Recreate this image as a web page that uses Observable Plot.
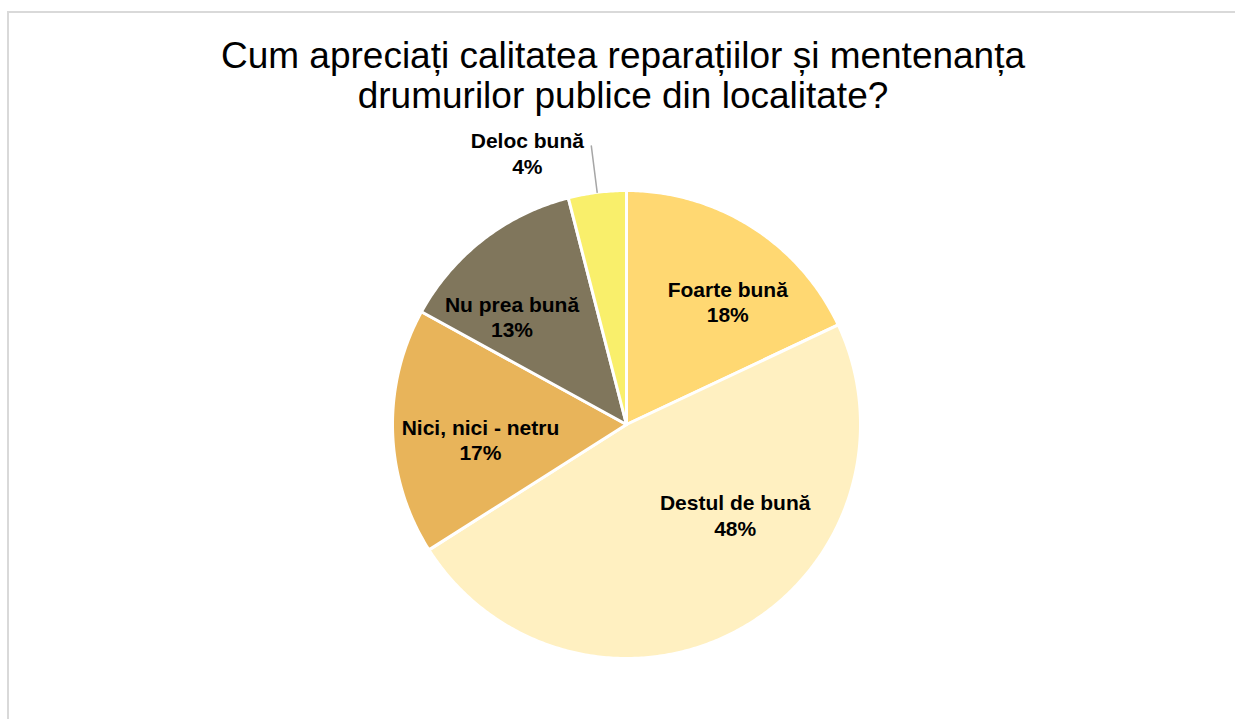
<!DOCTYPE html>
<html>
<head>
<meta charset="utf-8">
<script src="https://cdn.jsdelivr.net/npm/d3@7"></script>
<script src="https://cdn.jsdelivr.net/npm/@observablehq/plot@0.6"></script>
<style>
  html, body { margin: 0; padding: 0; background: #fff; }
  body { width: 1235px; height: 719px; overflow: hidden; position: relative; font-family: "Liberation Sans", Arial, sans-serif; }
  .frame { position: absolute; left: 7px; top: 11px; width: 1260px; height: 740px; border-left: 2px solid #d9d9d9; border-top: 2px solid #d9d9d9; box-sizing: border-box; }
  .title { position: absolute; top: 36px; left: 0; width: 1246px; text-align: center; font-size: 37px; line-height: 40px; color: #000; }
  #chart { position: absolute; top: 128px; left: 0; }
</style>
</head>
<body>
<div class="frame"></div>
<div class="title">Cum apreciați calitatea reparațiilor și mentenanța<br>drumurilor publice din localitate?</div>
<div id="chart"></div>
<script>
const categories = ["Foarte bună", "Destul de bună", "Nici, nici - netru", "Nu prea bună", "Deloc bună"];
const values = [18, 48, 17, 13, 4];
const colors = ["#FFD872", "#FFF0C1", "#E8B45A", "#80765C", "#F9EF6B"];
const outside = [false, false, false, false, true];
// manual label nudges (pixels), as in the original's hand-placed labels
const labelDx = [16, 32, 13, -17, -64];
const labelDy = [11, -49, 10, 18, 7];

const total = d3.sum(values);
const arcs = d3.pie().sort(null).value(d => d)(values);

// polygon points for each slice (angles measured clockwise from top)
const slices = arcs.map((a, i) => {
  const pts = [{x: 0, y: 0}];
  const n = Math.max(8, Math.ceil((a.endAngle - a.startAngle) / 0.01));
  for (let k = 0; k <= n; k++) {
    const t = a.startAngle + (a.endAngle - a.startAngle) * k / n;
    pts.push({x: Math.sin(t), y: Math.cos(t)});
  }
  return {cat: categories[i], color: colors[i], pts};
});

const labels = arcs.map((a, i) => {
  const mid = (a.startAngle + a.endAngle) / 2;
  const r = outside[i] ? 1.2 : 0.68;
  return {
    cat: categories[i],
    text: categories[i] + "\n" + Math.round(values[i] / total * 100) + "%",
    x: r * Math.sin(mid),
    y: r * Math.cos(mid),
    outside: outside[i],
    mid,
    i
  };
});

const leaders = labels.filter(d => d.outside).flatMap(d => [
  {cat: d.cat, x: Math.sin(d.mid), y: Math.cos(d.mid)},
  {cat: d.cat, x: 1.2 * Math.sin(d.mid), y: 1.2 * Math.cos(d.mid)}
]);

const marks = slices.map(s => Plot.line(s.pts, {
  x: "x", y: "y", fill: s.color, stroke: "#fff", strokeWidth: 3,
  strokeLinejoin: "round", curve: "linear-closed"
}));

marks.push(Plot.line(leaders, {x: "x", y: "y", z: "cat", stroke: "#a6a6a6", strokeWidth: 1.5}));

labels.forEach(d => {
  marks.push(Plot.text([d], {
    x: "x", y: "y", text: "text", fontSize: 21, fontWeight: "bold",
    fill: "#000", lineHeight: 1.2, dx: labelDx[d.i], dy: labelDy[d.i],
    fontFamily: "Liberation Sans, Arial, sans-serif"
  }));
});

const plot = Plot.plot({
  width: 1235,
  height: 591,
  margin: 0,
  x: {domain: [-1, 1], range: [392, 860], axis: null},
  y: {domain: [-1, 1], range: [530, 62], axis: null},
  style: {background: "transparent", overflow: "visible"},
  marks
});
document.getElementById("chart").appendChild(plot);
</script>
</body>
</html>
